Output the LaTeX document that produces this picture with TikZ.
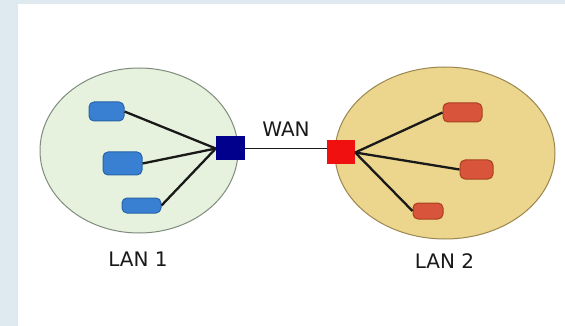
\documentclass[tikz,border=0pt]{standalone}
\usepackage{fontspec}
\setmainfont{DejaVu Sans}
\usetikzlibrary{shapes.geometric}
\definecolor{bandcol}{HTML}{DEEAEF}
\definecolor{lanAfill}{HTML}{E7F2DE}
\definecolor{lanAdraw}{HTML}{7F8C7D}
\definecolor{lanBfill}{HTML}{ECD58C}
\definecolor{lanBdraw}{HTML}{9A8650}
\definecolor{hostAfill}{HTML}{3A80D2}
\definecolor{hostAdraw}{HTML}{2563A8}
\definecolor{hostBfill}{HTML}{D8543A}
\definecolor{hostBdraw}{HTML}{A8401F}
\definecolor{routerA}{HTML}{00008C}
\definecolor{routerB}{HTML}{F01010}
\tikzset{
  lan/.style={ellipse, draw, line width=1pt, inner sep=0pt},
  host/.style={rectangle, rounded corners=5pt, line width=1pt, inner sep=0pt},
  router/.style={rectangle, inner sep=0pt, draw=none},
  link/.style={line width=2.3pt, black!90},
  wanlink/.style={line width=1.8pt, black!90},
  lbl/.style={font=\fontsize{20}{24}\selectfont, text=black!90, inner sep=0pt}
}
\begin{document}
\begin{tikzpicture}[x=1pt, y=-1pt]
  % page and side bands
  \fill[white] (0,0) rectangle (565,326);
  \fill[bandcol] (0,0) rectangle (18,326);
  \fill[bandcol] (0,0) rectangle (565,4);
  \useasboundingbox (0,0) rectangle (565,326);

  % the two local networks
  \node[lan, fill=lanAfill, draw=lanAdraw, minimum width=198pt, minimum height=165pt] (lanA) at (139,150.5) {};
  \node[lan, fill=lanBfill, draw=lanBdraw, minimum width=220pt, minimum height=172pt] (lanB) at (445,153) {};

  % routers
  \node[router, fill=routerA, minimum width=29pt, minimum height=24pt] (rA) at (230.5,148.5) {};
  \node[router, fill=routerB, minimum width=28pt, minimum height=24pt] (rB) at (341,152.5) {};

  % hosts in LAN 1
  \node[host, fill=hostAfill, draw=hostAdraw, minimum width=35pt, minimum height=19pt] (a1) at (106.5,111.5) {};
  \node[host, fill=hostAfill, draw=hostAdraw, minimum width=39pt, minimum height=23pt] (a2) at (122.5,163.5) {};
  \node[host, fill=hostAfill, draw=hostAdraw, minimum width=39pt, minimum height=15pt] (a3) at (141.5,205.5) {};

  % hosts in LAN 2
  \node[host, fill=hostBfill, draw=hostBdraw, minimum width=39pt, minimum height=19pt] (b1) at (462.5,112.5) {};
  \node[host, fill=hostBfill, draw=hostBdraw, minimum width=33pt, minimum height=19pt] (b2) at (476.5,169.5) {};
  \node[host, fill=hostBfill, draw=hostBdraw, minimum width=30pt, minimum height=16pt] (b3) at (428,211) {};

  % links inside each LAN
  \draw[link] (a1.east) -- (rA.west);
  \draw[link] (a2.east) -- (rA.west);
  \draw[link] (a3.east) -- (rA.west);
  \draw[link] (rB.east) -- (b1.west);
  \draw[link] (rB.east) -- (b2.west);
  \draw[link] (rB.east) -- (b3.west);
  % wide-area link, level with the left router
  \draw[wanlink] (rA.east) -- (rA.east -| rB.west);

  % labels
  \node[lbl] (wan) at (286,129) {WAN};
  \node[lbl] (lblA) at (138,259) {LAN 1};
  \node[lbl] (lblB) at (444.5,261.5) {LAN 2};
\end{tikzpicture}
\end{document}
